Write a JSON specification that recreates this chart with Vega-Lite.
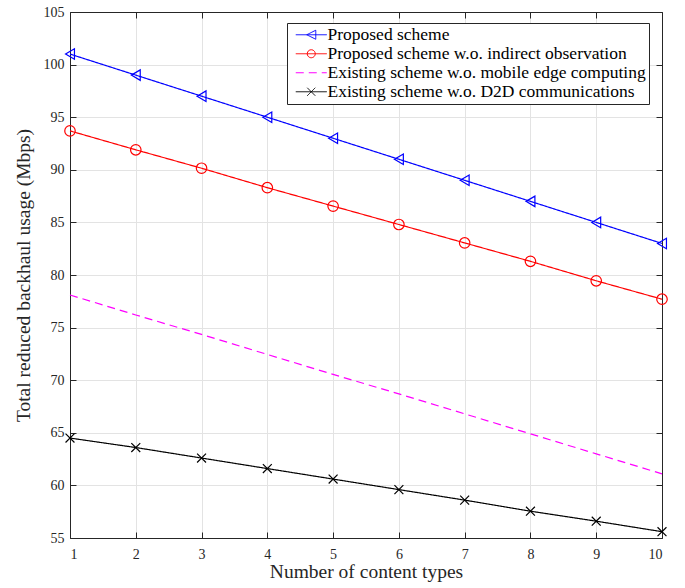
{
  "$schema": "https://vega.github.io/schema/vega-lite/v6.json",
  "width": 592,
  "height": 526,
  "autosize": {"type": "none"},
  "padding": {"left": 70, "top": 12, "right": 23, "bottom": 50},
  "background": "white",
  "config": {
    "font": "Liberation Serif",
    "view": {"stroke": null},
    "axis": {
      "domainColor": "#262626",
      "tickColor": "#262626",
      "labelColor": "#262626",
      "titleColor": "#262626",
      "labelFont": "Liberation Serif",
      "titleFont": "Liberation Serif",
      "labelFontSize": 14,
      "titleFontSize": 19.5,
      "titleFontWeight": "normal",
      "gridColor": "#e3e3e3",
      "gridWidth": 1,
      "tickSize": -6,
      "domainWidth": 1
    }
  },
  "datasets": {
    "main": [
      {"x": 1, "series": "Proposed scheme", "y": 101.0},
      {"x": 2, "series": "Proposed scheme", "y": 99.0},
      {"x": 3, "series": "Proposed scheme", "y": 97.0},
      {"x": 4, "series": "Proposed scheme", "y": 95.0},
      {"x": 5, "series": "Proposed scheme", "y": 93.0},
      {"x": 6, "series": "Proposed scheme", "y": 91.0},
      {"x": 7, "series": "Proposed scheme", "y": 89.0},
      {"x": 8, "series": "Proposed scheme", "y": 87.0},
      {"x": 9, "series": "Proposed scheme", "y": 85.0},
      {"x": 10, "series": "Proposed scheme", "y": 83.0},
      {"x": 1, "series": "Proposed scheme w.o. indirect observation", "y": 93.7},
      {"x": 2, "series": "Proposed scheme w.o. indirect observation", "y": 91.9},
      {"x": 3, "series": "Proposed scheme w.o. indirect observation", "y": 90.15},
      {"x": 4, "series": "Proposed scheme w.o. indirect observation", "y": 88.3},
      {"x": 5, "series": "Proposed scheme w.o. indirect observation", "y": 86.55},
      {"x": 6, "series": "Proposed scheme w.o. indirect observation", "y": 84.8},
      {"x": 7, "series": "Proposed scheme w.o. indirect observation", "y": 83.05},
      {"x": 8, "series": "Proposed scheme w.o. indirect observation", "y": 81.3},
      {"x": 9, "series": "Proposed scheme w.o. indirect observation", "y": 79.45},
      {"x": 10, "series": "Proposed scheme w.o. indirect observation", "y": 77.7},
      {"x": 1, "series": "Existing scheme w.o. mobile edge computing", "y": 78.1},
      {"x": 2, "series": "Existing scheme w.o. mobile edge computing", "y": 76.2},
      {"x": 3, "series": "Existing scheme w.o. mobile edge computing", "y": 74.35},
      {"x": 4, "series": "Existing scheme w.o. mobile edge computing", "y": 72.45},
      {"x": 5, "series": "Existing scheme w.o. mobile edge computing", "y": 70.55},
      {"x": 6, "series": "Existing scheme w.o. mobile edge computing", "y": 68.7},
      {"x": 7, "series": "Existing scheme w.o. mobile edge computing", "y": 66.8},
      {"x": 8, "series": "Existing scheme w.o. mobile edge computing", "y": 64.9},
      {"x": 9, "series": "Existing scheme w.o. mobile edge computing", "y": 63.0},
      {"x": 10, "series": "Existing scheme w.o. mobile edge computing", "y": 61.1},
      {"x": 1, "series": "Existing scheme w.o. D2D communications", "y": 64.5},
      {"x": 2, "series": "Existing scheme w.o. D2D communications", "y": 63.6},
      {"x": 3, "series": "Existing scheme w.o. D2D communications", "y": 62.6},
      {"x": 4, "series": "Existing scheme w.o. D2D communications", "y": 61.6},
      {"x": 5, "series": "Existing scheme w.o. D2D communications", "y": 60.6},
      {"x": 6, "series": "Existing scheme w.o. D2D communications", "y": 59.6},
      {"x": 7, "series": "Existing scheme w.o. D2D communications", "y": 58.6},
      {"x": 8, "series": "Existing scheme w.o. D2D communications", "y": 57.55},
      {"x": 9, "series": "Existing scheme w.o. D2D communications", "y": 56.6},
      {"x": 10, "series": "Existing scheme w.o. D2D communications", "y": 55.6}
    ]
  },
  "data": {"name": "main"},
  "layer": [
    {
      "mark": {"type": "line", "strokeWidth": 1.2, "clip": false},
      "encoding": {
        "x": {
          "field": "x", "type": "quantitative",
          "scale": {"domain": [1, 10], "nice": false, "zero": false},
          "axis": {"orient": "bottom", "values": [1,2,3,4,5,6,7,8,9,10], "title": "Number of content types", "grid": true, "labelPadding": 15, "titlePadding": 1}
        },
        "y": {
          "field": "y", "type": "quantitative",
          "scale": {"domain": [55, 105], "nice": false, "zero": false},
          "axis": {"orient": "left", "values": [55,60,65,70,75,80,85,90,95,100,105], "title": "Total reduced backhaul usage (Mbps)", "grid": true, "labelPadding": 12, "titlePadding": 10}
        },
        "color": {
          "field": "series", "type": "nominal",
          "scale": {
            "domain": ["Proposed scheme", "Proposed scheme w.o. indirect observation", "Existing scheme w.o. mobile edge computing", "Existing scheme w.o. D2D communications"],
            "range": ["#0000ff", "#ff0000", "#ff00ff", "#000000"]
          },
          "legend": {
            "title": null,
            "orient": "none",
            "legendX": 217,
            "legendY": 11,
            "fillColor": "white",
            "strokeColor": "#262626",
            "padding": 3,
            "labelFont": "Liberation Serif",
            "labelFontSize": 17.5,
            "labelColor": "#000000",
            "labelOffset": 20,
            "rowPadding": 0,
            "symbolSize": 100,
            "symbolStrokeWidth": 1,
            "cornerRadius": 0,
            "labelLimit": 400,
            "encode": {
              "symbols": {
                "update": {
                  "fill": {"value": "transparent"},
                  "shape": {"signal": "datum.value === 'Proposed scheme' ? 'M-0.6,0H5.6M3.4,-0.9L1.6,0L3.4,0.9Z' : datum.value === 'Proposed scheme w.o. indirect observation' ? 'M-0.6,0H5.6M3.3,0A0.8,0.8 0 1,1 1.7,0A0.8,0.8 0 1,1 3.3,0' : datum.value === 'Existing scheme w.o. D2D communications' ? 'M-0.6,0H5.6M1.7,-0.8L3.3,0.8M1.7,0.8L3.3,-0.8' : 'M-0.6,0H5.6'"}
                }
              }
            }
          }
        },
        "strokeDash": {
          "field": "series", "type": "nominal",
          "scale": {
            "domain": ["Proposed scheme", "Proposed scheme w.o. indirect observation", "Existing scheme w.o. mobile edge computing", "Existing scheme w.o. D2D communications"],
            "range": [[1, 0], [1, 0], [8, 5], [1, 0]]
          },
          "legend": null
        }
      }
    },
    {
      "transform": [{"filter": "datum.series === 'Proposed scheme'"}],
      "mark": {"type": "point", "shape": "M-0.85,0L0.85,-1L0.85,1Z", "filled": false, "size": 110, "strokeWidth": 1.2, "opacity": 1, "clip": false},
      "encoding": {
        "x": {"field": "x", "type": "quantitative", "axis": {"orient": "top", "values": [1,2,3,4,5,6,7,8,9,10], "labels": false, "title": null, "grid": false}},
        "y": {"field": "y", "type": "quantitative", "axis": {"orient": "right", "values": [55,60,65,70,75,80,85,90,95,100,105], "labels": false, "title": null, "grid": false}},
        "color": {"field": "series", "type": "nominal", "legend": null}
      }
    },
    {
      "transform": [{"filter": "datum.series === 'Proposed scheme w.o. indirect observation'"}],
      "mark": {"type": "point", "shape": "circle", "filled": false, "size": 110, "strokeWidth": 1.2, "opacity": 1, "clip": false},
      "encoding": {
        "x": {"field": "x", "type": "quantitative", "axis": null},
        "y": {"field": "y", "type": "quantitative", "axis": null},
        "color": {"field": "series", "type": "nominal", "legend": null}
      }
    },
    {
      "transform": [{"filter": "datum.series === 'Existing scheme w.o. D2D communications'"}],
      "mark": {"type": "point", "shape": "M-0.85,-0.85L0.85,0.85M-0.85,0.85L0.85,-0.85", "filled": false, "size": 110, "strokeWidth": 1.2, "opacity": 1, "clip": false},
      "encoding": {
        "x": {"field": "x", "type": "quantitative", "axis": null},
        "y": {"field": "y", "type": "quantitative", "axis": null},
        "color": {"field": "series", "type": "nominal", "legend": null}
      }
    }
  ],
  "resolve": {"axis": {"x": "independent", "y": "independent"}}
}
